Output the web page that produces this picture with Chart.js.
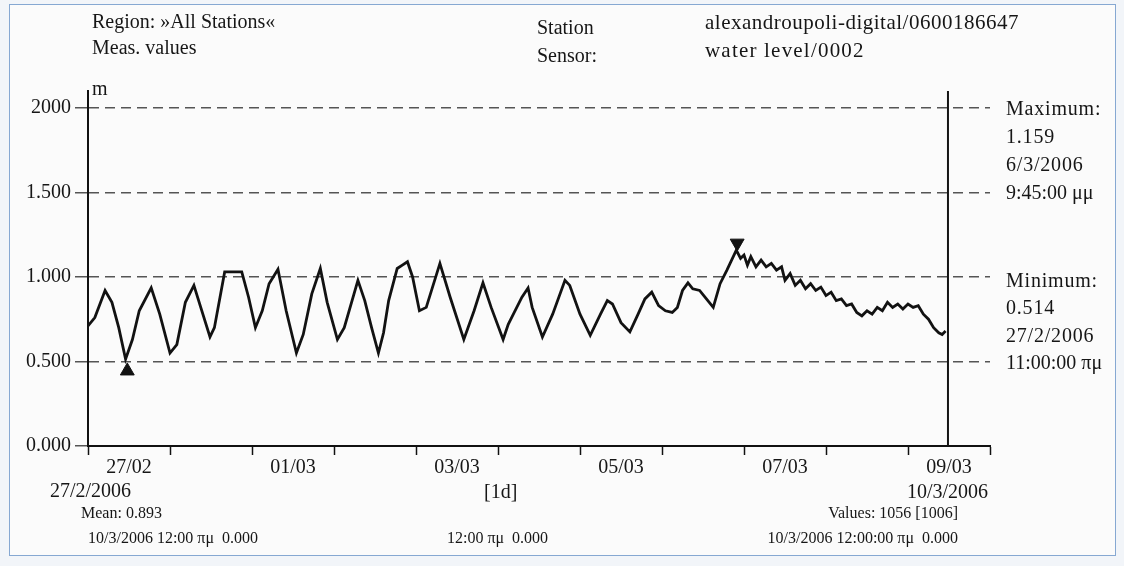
<!DOCTYPE html>
<html><head><meta charset="utf-8">
<script src="https://cdn.jsdelivr.net/npm/chart.js@4.4.1/dist/chart.umd.min.js"></script>
<style>
html,body{margin:0;padding:0;width:1124px;height:566px;overflow:hidden;background:#f2f5f9;}
#frame{position:absolute;left:9px;top:4px;width:1105px;height:550px;border:1.5px solid #86a8d2;background:#fbfbfb;}
#wrap{position:absolute;left:0;top:0;width:1124px;height:566px;}
.t{position:absolute;font-family:"Liberation Serif","Times New Roman",serif;color:#161616;white-space:nowrap;line-height:20px;font-size:20px;}
.s{font-size:16px;}
.r{text-align:right;}
.w{letter-spacing:0.8px;}
</style></head><body>
<div id="frame"></div>
<div id="wrap"><canvas id="c" width="1124" height="566"></canvas></div>

<div class="t" style="left:92px;top:11px;">Region: »All Stations«</div>
<div class="t" style="left:92px;top:37px;">Meas. values</div>
<div class="t" style="left:92px;top:78px;">m</div>
<div class="t" style="left:537px;top:17px;">Station</div>
<div class="t" style="left:537px;top:45px;">Sensor:</div>
<div class="t" style="left:705px;top:12px;font-size:21px;letter-spacing:0.5px;">alexandroupoli-digital/0600186647</div>
<div class="t" style="left:705px;top:40px;font-size:21px;letter-spacing:1.2px;">water level/0002</div>

<div class="t w" style="left:1006px;top:98px;">Maximum:</div>
<div class="t w" style="left:1006px;top:126px;">1.159</div>
<div class="t w" style="left:1006px;top:154px;">6/3/2006</div>
<div class="t" style="left:1006px;top:182px;">9:45:00 μμ</div>
<div class="t w" style="left:1006px;top:270px;">Minimum:</div>
<div class="t w" style="left:1006px;top:297px;">0.514</div>
<div class="t w" style="left:1006px;top:325px;">27/2/2006</div>
<div class="t" style="left:1006px;top:352px;">11:00:00 πμ</div>

<div class="t" style="left:50px;top:480px;">27/2/2006</div>
<div class="t s" style="left:81px;top:503px;">Mean: 0.893</div>
<div class="t s" style="left:88px;top:528px;">10/3/2006 12:00 πμ&nbsp; 0.000</div>
<div class="t" style="left:484px;top:481px;">[1d]</div>
<div class="t s" style="left:447px;top:528px;">12:00 πμ&nbsp; 0.000</div>
<div class="t r" style="right:136px;top:481px;">10/3/2006</div>
<div class="t s r" style="right:166px;top:503px;">Values: 1056 [1006]</div>
<div class="t s r" style="right:166px;top:528px;">10/3/2006 12:00:00 πμ&nbsp; 0.000</div>

<script>
// hours since 27/2/2006 00:00
const hours = [0,2,5,7,9,11,13,15,18.5,21,24,26,28.5,31,33,35.7,37,40,45,47,49,51,53,55.6,58,61,63,65.5,68,70,73,75,79,81,83,85,86.5,88,90.5,92,93.5,95,97,99,103,106,110,113,115.6,118,121.5,123,124.5,127,128.8,130,133,136,139.6,141,144,147,150,152,153.5,156,158.6,161,163,165,167,169,171,172.5,174,175.6,177,179,181,183,185,187,189.75,191,192,193,194,195.5,197,198.5,200,201.5,203,204,205.5,207,208.5,210,211.5,213,214.5,216,217.5,219,220.5,222,223.5,225,226.5,228,229.5,231,232.5,234,235.5,237,238.5,240,241.5,243,244.5,246,247.5,249,250,251];
const levels = [0.71,0.76,0.92,0.85,0.70,0.514,0.63,0.80,0.935,0.78,0.55,0.60,0.85,0.95,0.82,0.645,0.70,1.03,1.03,0.88,0.70,0.80,0.96,1.045,0.80,0.55,0.66,0.90,1.05,0.85,0.63,0.70,0.98,0.86,0.70,0.55,0.67,0.86,1.05,1.07,1.09,1.00,0.80,0.82,1.08,0.88,0.63,0.80,0.965,0.82,0.63,0.72,0.78,0.88,0.935,0.82,0.645,0.78,0.98,0.95,0.78,0.655,0.78,0.86,0.84,0.73,0.675,0.78,0.87,0.91,0.83,0.80,0.79,0.82,0.92,0.965,0.93,0.92,0.87,0.82,0.96,1.04,1.159,1.11,1.13,1.07,1.12,1.06,1.10,1.06,1.08,1.04,1.06,0.98,1.02,0.95,0.98,0.93,0.96,0.92,0.94,0.89,0.91,0.86,0.87,0.83,0.84,0.79,0.77,0.80,0.78,0.82,0.80,0.85,0.82,0.84,0.81,0.84,0.82,0.83,0.78,0.75,0.70,0.67,0.66,0.68];
const dayLabels = ['27/02','','01/03','','03/03','','05/03','','07/03','','09/03'];
const yTickValues = [0,0.5,1,1.5,2];
const yTickLabels = ['0.000','0.500','1.000','1.500','2000'];
const minMarker = {hour:11.5, level:0.444};
const maxMarker = {hour:190, level:1.20};
const endHour = 251.7;

const FONT = "'Liberation Serif','Times New Roman',serif";
const series = hours.map((h,i)=>({x:h,y:levels[i]}));

new Chart(document.getElementById('c'), {
  type:'line',
  data:{datasets:[
    {data:series, borderColor:'#121212', borderWidth:2.8, pointRadius:0, tension:0},
    {data:[{x:endHour,y:0},{x:endHour,y:2.1}], borderColor:'#151515', borderWidth:2, pointRadius:0},
    {data:[{x:minMarker.hour,y:minMarker.level}], showLine:false, pointStyle:'triangle', pointRadius:8, backgroundColor:'#111', borderColor:'#111', borderWidth:1},
    {data:[{x:maxMarker.hour,y:maxMarker.level}], showLine:false, pointStyle:'triangle', rotation:180, pointRadius:8, backgroundColor:'#111', borderColor:'#111', borderWidth:1}
  ]},
  options:{
    responsive:false, animation:false,
    layout:{padding:{left:15,right:134,top:91,bottom:80}},
    plugins:{legend:{display:false}, tooltip:{enabled:false}},
    scales:{
      x:{type:'linear', position:'bottom', min:0, max:264, weight:0,
         ticks:{display:false, stepSize:24},
         grid:{display:true, drawOnChartArea:false, drawTicks:true, tickLength:9, tickColor:'#111', tickWidth:1.5},
         border:{display:true, color:'#111', width:2},
         afterFit:(s)=>{s.height=10;}},
      xl:{type:'category', position:'bottom', labels:dayLabels, offset:true, weight:1,
         grid:{display:false, drawTicks:false}, border:{display:false},
         ticks:{autoSkip:false, maxRotation:0, padding:0, color:'#161616', font:{family:FONT, size:20}},
         afterFit:(s)=>{s.height=30;}},
      y:{type:'linear', min:0, max:2.1,
         afterBuildTicks:(s)=>{s.ticks = yTickValues.map(v=>({value:v}));},
         ticks:{callback:(v)=>{const i=yTickValues.indexOf(v); return i<0?'':yTickLabels[i];}, padding:4, color:'#161616', font:{family:FONT,size:20}},
         grid:{color:'#555', lineWidth:1.5, tickLength:13, tickColor:'#555', tickWidth:1.5},
         border:{display:true, color:'#111', width:2, dash:[10,6]},
         afterFit:(s)=>{s.width=73;}}
    }
  }
});
</script>
</body></html>
